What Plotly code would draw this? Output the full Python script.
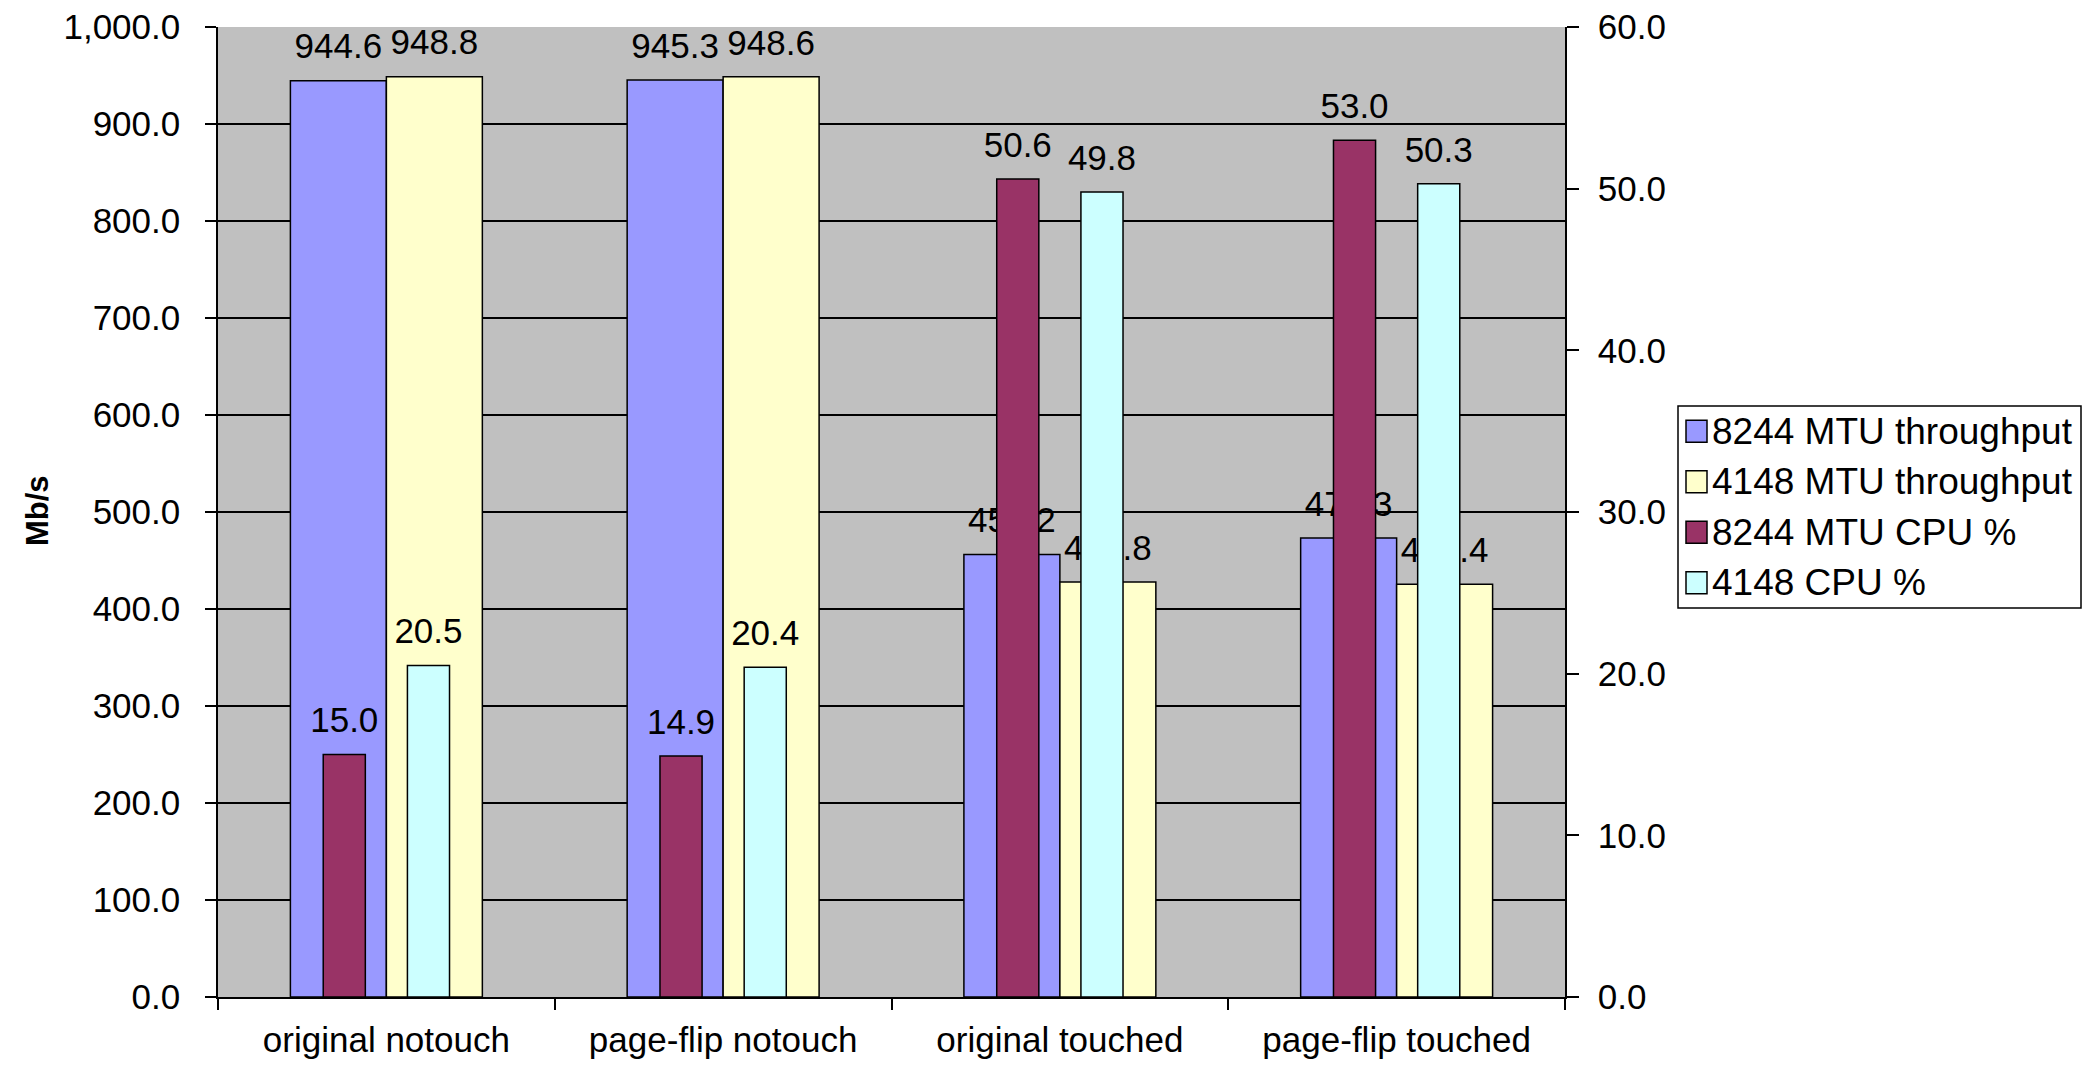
import plotly.graph_objects as go

# Test cases and measured results
categories = ["original notouch", "page-flip notouch", "original touched", "page-flip touched"]
thr_8244 = [944.6, 945.3, 456.2, 473.3]   # Mb/s
thr_4148 = [948.8, 948.6, 427.8, 425.4]   # Mb/s
cpu_8244 = [15.0, 14.9, 50.6, 53.0]       # %
cpu_4148 = [20.5, 20.4, 49.8, 50.3]       # %

series_names = ["8244 MTU throughput", "4148 MTU throughput", "8244 MTU CPU %", "4148 CPU %"]
series_colors = ["#9999FF", "#FFFFCC", "#993366", "#CCFFFF"]

FONT = "Liberation Sans, Arial, sans-serif"
FS = 35

W, H = 2087, 1069
L, R, T, B = 218, 522, 27, 72
PW, PH = W - L - R, H - T - B


def px_x(px):
    return (px - L) / PW


def px_y(py):
    return (H - B - py) / PH


fig = go.Figure()

bar_line = dict(color="black", width=1.5)
label_font = dict(family=FONT, size=FS, color="black")
pos = list(range(len(categories)))


def add_series(values, idx, width, offset, axis):
    # the bars themselves
    fig.add_trace(go.Bar(
        x=pos, y=values, name=series_names[idx], yaxis=axis,
        marker=dict(color=series_colors[idx], line=bar_line),
        width=width, offset=offset, showlegend=False, hoverinfo="y",
    ))
    # value labels above each bar, on the same axes so later bars can cover them
    centers = [p + offset + width / 2 for p in pos]
    fig.add_trace(go.Scatter(
        x=centers, y=values, yaxis=axis, mode="markers+text",
        marker=dict(size=20, opacity=0),
        text=[f"{v:.1f}" for v in values], textposition="top center",
        textfont=label_font, cliponaxis=False, showlegend=False, hoverinfo="skip",
    ))


# Throughput bars (left axis): two wide bars side by side per category
add_series(thr_8244, 0, 0.285, -0.285, "y")
add_series(thr_4148, 1, 0.285, 0.0, "y")
# CPU bars (right axis): narrow bars drawn over the throughput bars
add_series(cpu_8244, 2, 0.125, -0.1875, "y2")
add_series(cpu_4148, 3, 0.125, 0.0625, "y2")

tick_font = dict(family=FONT, size=FS, color="black")

fig.update_layout(
    width=W, height=H,
    margin=dict(l=L, r=R, t=T, b=B, pad=0, autoexpand=False),
    paper_bgcolor="white",
    plot_bgcolor="#C0C0C0",
    barmode="overlay",
    showlegend=False,
    font=dict(family=FONT, size=FS, color="black"),
    xaxis=dict(
        range=[-0.5, len(categories) - 0.5], automargin=False,
        tickmode="array", tickvals=pos, ticktext=categories,
        showline=True, linecolor="black", linewidth=1.5,
        ticks="outside", ticklen=11, tickcolor="rgba(0,0,0,0)", tickwidth=1.5,
        minor=dict(tickmode="array", tickvals=[p - 0.5 for p in pos] + [len(pos) - 0.5],
                   ticks="outside", ticklen=11, tickcolor="black", tickwidth=1.5,
                   showgrid=False),
        tickfont=tick_font, showgrid=False, zeroline=False, ticklabelstandoff=0,
    ),
    yaxis=dict(
        range=[0, 1000], tick0=0, dtick=100, tickformat=",.1f", automargin=False,
        showline=True, linecolor="black", linewidth=1.5,
        ticks="outside", ticklen=11, tickcolor="black", tickwidth=1.5,
        showgrid=True, gridcolor="black", gridwidth=1.5,
        zeroline=False, tickfont=tick_font, ticklabelstandoff=18,
    ),
    yaxis2=dict(
        range=[0, 60], tick0=0, dtick=10, tickformat=".1f", automargin=False,
        overlaying="y", side="right", anchor="x",
        showline=True, linecolor="black", linewidth=1.5,
        ticks="outside", ticklen=12, tickcolor="black", tickwidth=1.5,
        showgrid=False, zeroline=False, tickfont=tick_font, ticklabelstandoff=12,
    ),
    yaxis3=dict(
        range=[0, 60], tick0=0, dtick=10, automargin=False,
        overlaying="y", side="right", anchor="x",
        ticks="inside", ticklen=12, tickcolor="black", tickwidth=1.5,
        showticklabels=False, showline=False, showgrid=False, zeroline=False,
    ),
)

# Vertical axis title
fig.add_annotation(
    x=px_x(37), y=px_y(511), xref="paper", yref="paper",
    text="<b>Mb/s</b>", textangle=-90, showarrow=False,
    font=dict(family=FONT, size=31, color="black"),
    xanchor="center", yanchor="middle",
)

# Legend box with colour keys
box_l, box_r, box_t, box_b = 1678, 2081, 406, 608
fig.add_shape(type="rect", xref="paper", yref="paper",
              x0=px_x(box_l), x1=px_x(box_r), y0=px_y(box_b), y1=px_y(box_t),
              line=dict(color="black", width=1.5), fillcolor="white", layer="above")
row_h = (box_b - box_t) / len(series_names)
for i, (name, color) in enumerate(zip(series_names, series_colors)):
    cy = box_t + row_h * (i + 0.5)
    fig.add_shape(type="rect", xref="paper", yref="paper",
                  x0=px_x(box_l + 8), x1=px_x(box_l + 29),
                  y0=px_y(cy + 11), y1=px_y(cy - 11),
                  line=dict(color="black", width=1.5), fillcolor=color, layer="above")
    fig.add_annotation(
        x=px_x(box_l + 32), y=px_y(cy), xref="paper", yref="paper",
        text=name, showarrow=False, xanchor="left", yanchor="middle",
        font=dict(family=FONT, size=37, color="black"),
    )

fig.write_html("out.html")
